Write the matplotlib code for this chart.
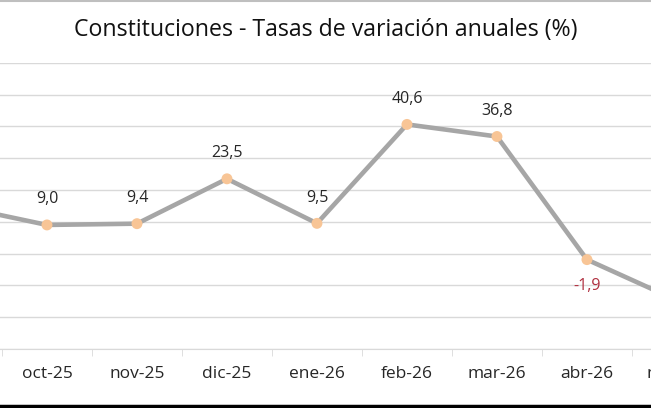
import matplotlib
matplotlib.use("Agg")
import matplotlib.pyplot as plt
from matplotlib.lines import Line2D

# datos (tasas de variación anual, %)
meses = ["sep-25", "oct-25", "nov-25", "dic-25", "ene-26", "feb-26", "mar-26", "abr-26", "may-26"]
tasas = [15.0, 9.0, 9.4, 23.5, 9.5, 40.6, 36.8, -1.9, -14.7]
etiquetas = ["", "9,0", "9,4", "23,5", "9,5", "40,6", "36,8", "-1,9", ""]

plt.rcParams['font.family'] = ['Open Sans', 'DejaVu Sans']

fig = plt.figure(figsize=(6.51, 4.08), dpi=100)
# el eje sobresale por la derecha: la imagen original está recortada
ax = fig.add_axes([0, 0.1446, 1.109, 0.7017])

x = list(range(len(meses)))
ax.plot(x, tasas, color='#a6a6a6', lw=3.3, zorder=2, solid_joinstyle='miter')
ax.scatter(x, tasas, s=62, color='#f8c596', zorder=3, edgecolors='none')

for xi, v, lab in zip(x, tasas, etiquetas):
    if not lab:
        continue
    if v < 0:
        ax.annotate(lab, (xi, v), xytext=(0, -19), textcoords='offset points',
                    ha='center', va='center', fontsize=11.5, color='#b03040')
    else:
        ax.annotate(lab, (xi, v), xytext=(0, 18.5), textcoords='offset points',
                    ha='center', va='center', fontsize=11.5, color='#262626')

ax.set_xticks(x)
ax.set_xticklabels(meses, fontsize=12.5, color='#262626')
ax.set_xticks([i + 0.5 for i in range(-1, len(meses))], minor=True)
ax.tick_params(axis='x', which='major', length=0, pad=12)
ax.tick_params(axis='x', which='minor', length=5, color='#d9d9d9')

ax.set_yticks(range(-30, 61, 10))
ax.yaxis.grid(True, color='#d9d9d9', lw=1)
ax.set_axisbelow(True)
ax.tick_params(axis='y', left=False, labelleft=False)

ax.set_xlim(0.478, 8.5)
ax.set_ylim(-30, 60)

for s in ['top', 'left', 'right']:
    ax.spines[s].set_visible(False)
ax.spines['bottom'].set_color('#d9d9d9')

fig.text(0.501, 0.927, "Constituciones - Tasas de variación anuales (%)",
         ha='center', va='center', fontsize=16.7, color='#111111')

# bordes del recorte
fig.add_artist(Line2D([0, 1], [0.998, 0.998], color='#bfbfbf', lw=1.5))
fig.add_artist(Line2D([0, 1], [0.004, 0.004], color='black', lw=2.5))

fig.savefig("out.png", dpi=100)
